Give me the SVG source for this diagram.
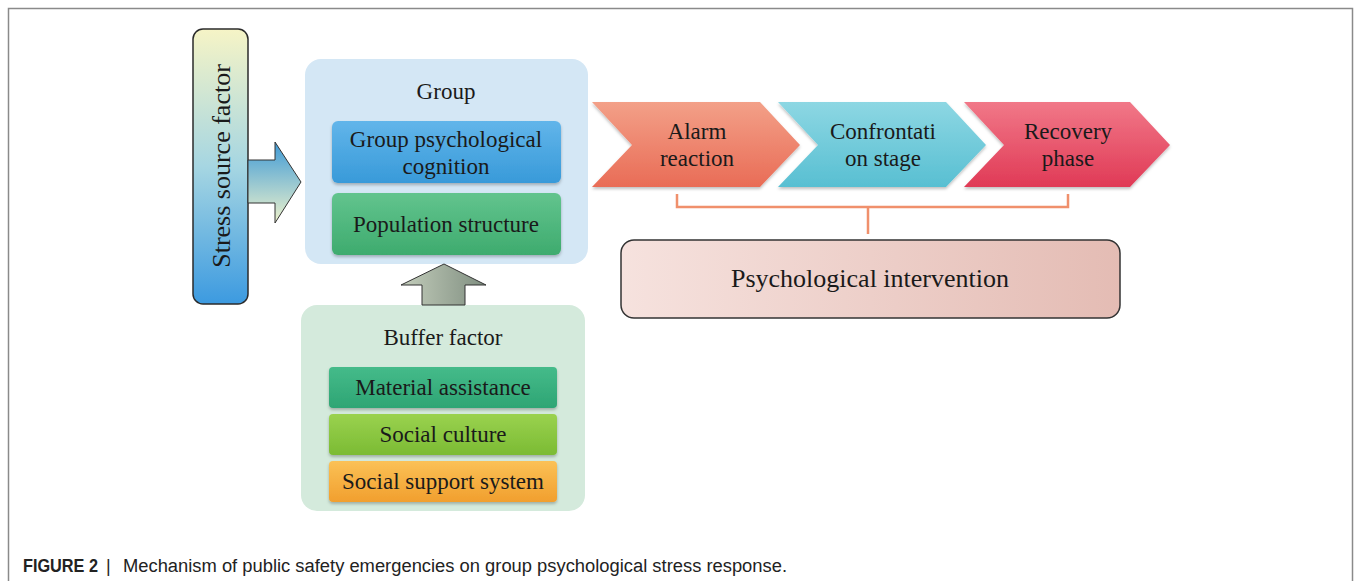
<svg xmlns="http://www.w3.org/2000/svg" width="1356" height="581" viewBox="0 0 1356 581">
<defs>
<style>
.t{font-family:"Liberation Serif","Times New Roman",serif;fill:#1a1a1a;text-anchor:middle;font-size:23px}
.big{font-size:26px}
.cap{font-family:"Liberation Sans",Arial,sans-serif;fill:#222;font-size:18px}
.inner{filter:url(#sh)}
</style>
<filter id="sh" x="-5%" y="-10%" width="110%" height="130%">
<feDropShadow dx="0" dy="2" stdDeviation="1.5" flood-color="#000" flood-opacity="0.25"/>
</filter>
<linearGradient id="gStress" x1="0" y1="0" x2="0" y2="1">
<stop offset="0" stop-color="#f6f4c6"/>
<stop offset="0.5" stop-color="#a6d6e2"/>
<stop offset="1" stop-color="#3c9ae0"/>
</linearGradient>
<linearGradient id="gArrR" x1="0" y1="0" x2="0" y2="1">
<stop offset="0" stop-color="#3f9ad6"/>
<stop offset="1" stop-color="#eef3cc"/>
</linearGradient>
<linearGradient id="gArrU" x1="0" y1="0" x2="1" y2="0">
<stop offset="0" stop-color="#c3cdbb"/>
<stop offset="1" stop-color="#7f8e80"/>
</linearGradient>
<linearGradient id="gBlue" x1="0" y1="0" x2="0" y2="1">
<stop offset="0" stop-color="#62b5ea"/>
<stop offset="1" stop-color="#389ad9"/>
</linearGradient>
<linearGradient id="gGreen" x1="0" y1="0" x2="0" y2="1">
<stop offset="0" stop-color="#62c48e"/>
<stop offset="1" stop-color="#3eab6e"/>
</linearGradient>
<linearGradient id="gTeal" x1="0" y1="0" x2="0" y2="1">
<stop offset="0" stop-color="#45bb8a"/>
<stop offset="1" stop-color="#2ea574"/>
</linearGradient>
<linearGradient id="gLime" x1="0" y1="0" x2="0" y2="1">
<stop offset="0" stop-color="#9ad24f"/>
<stop offset="1" stop-color="#7bbb33"/>
</linearGradient>
<linearGradient id="gOrange" x1="0" y1="0" x2="0" y2="1">
<stop offset="0" stop-color="#fbc156"/>
<stop offset="1" stop-color="#f19f2e"/>
</linearGradient>
<linearGradient id="gSalmon" x1="0" y1="0" x2="0" y2="1">
<stop offset="0" stop-color="#f3a088"/>
<stop offset="1" stop-color="#e96c56"/>
</linearGradient>
<linearGradient id="gCyan" x1="0" y1="0" x2="0" y2="1">
<stop offset="0" stop-color="#8dd7e3"/>
<stop offset="1" stop-color="#58bfd2"/>
</linearGradient>
<linearGradient id="gRed" x1="0" y1="0" x2="0" y2="1">
<stop offset="0" stop-color="#f17888"/>
<stop offset="1" stop-color="#e03a56"/>
</linearGradient>
<linearGradient id="gPink" x1="0" y1="0" x2="1" y2="0">
<stop offset="0" stop-color="#f6e2de"/>
<stop offset="1" stop-color="#e4bcb4"/>
</linearGradient>
</defs>
<rect width="1356" height="581" fill="#fff"/>
<path d="M8.5 581 V8.5 H1352.5 V581" fill="none" stroke="#8a8a8a" stroke-width="1.5"/>

<g id="stress">
<rect x="193" y="29" width="55" height="275" rx="10" fill="url(#gStress)" stroke="#2b2b2b" stroke-width="1.5"/>
<text class="t big" transform="translate(230 166) rotate(-90)">Stress source factor</text>
</g>

<g id="group">
<rect x="305" y="59" width="283" height="205" rx="16" fill="#d4e7f5"/>
<text class="t" x="446" y="99">Group</text>
</g>
<g id="cognition">
<rect class="inner" x="332" y="121" width="229" height="62" rx="6" fill="url(#gBlue)"/>
<text class="t" x="446" y="147">Group psychological</text>
<text class="t" x="446" y="174">cognition</text>
</g>
<g id="population">
<rect class="inner" x="332" y="193" width="229" height="62" rx="6" fill="url(#gGreen)"/>
<text class="t" x="446" y="232">Population structure</text>
</g>

<g id="buffer">
<rect x="301" y="305" width="284" height="206" rx="16" fill="#d4eadc"/>
<text class="t" x="443" y="345">Buffer factor</text>
</g>
<g id="material">
<rect class="inner" x="329" y="367" width="228" height="41" rx="4" fill="url(#gTeal)"/>
<text class="t" x="443" y="395">Material assistance</text>
</g>
<g id="culture">
<rect class="inner" x="329" y="414" width="228" height="41" rx="4" fill="url(#gLime)"/>
<text class="t" x="443" y="442">Social culture</text>
</g>
<g id="support">
<rect class="inner" x="329" y="461" width="228" height="41" rx="4" fill="url(#gOrange)"/>
<text class="t" x="443" y="489">Social support system</text>
</g>

<g id="alarm">
<polygon class="inner" points="592,102 760,102 800,145 760,187 592,187 632,145" fill="url(#gSalmon)"/>
<text class="t" x="697" y="139">Alarm</text>
<text class="t" x="697" y="166">reaction</text>
</g>
<g id="confrontation">
<polygon class="inner" points="778,102 946,102 986,145 946,187 778,187 818,145" fill="url(#gCyan)"/>
<text class="t" x="883" y="139">Confrontati</text>
<text class="t" x="883" y="166">on stage</text>
</g>
<g id="recovery">
<polygon class="inner" points="964,102 1130,102 1170,145 1130,187 964,187 1004,145" fill="url(#gRed)"/>
<text class="t" x="1068" y="139">Recovery</text>
<text class="t" x="1068" y="166">phase</text>
</g>

<g id="intervention">
<rect x="621" y="240" width="499" height="78" rx="13" fill="url(#gPink)" stroke="#333" stroke-width="1.5"/>
<text class="t big" x="870" y="287">Psychological intervention</text>
</g>

<g id="connectors">
<polygon points="248,160 275,160 275,142 301,182 275,223 275,203 248,203" fill="url(#gArrR)" stroke="#333" stroke-width="1"/>
<polygon points="422,305 422,285 401,285 444,264 486,285 465,285 465,305" fill="url(#gArrU)" stroke="#333" stroke-width="1"/>
<path d="M677 194 V207 H1068 V194 M868 207 V234" fill="none" stroke="#f0906c" stroke-width="2.5"/>
</g>

<g id="caption">
<text class="cap" x="23" y="572" font-weight="bold" textLength="75" lengthAdjust="spacingAndGlyphs">FIGURE 2</text>
<text class="cap" x="106" y="572">|</text>
<text class="cap" x="123" y="572" textLength="664" lengthAdjust="spacingAndGlyphs">Mechanism of public safety emergencies on group psychological stress response.</text>
</g>
</svg>
